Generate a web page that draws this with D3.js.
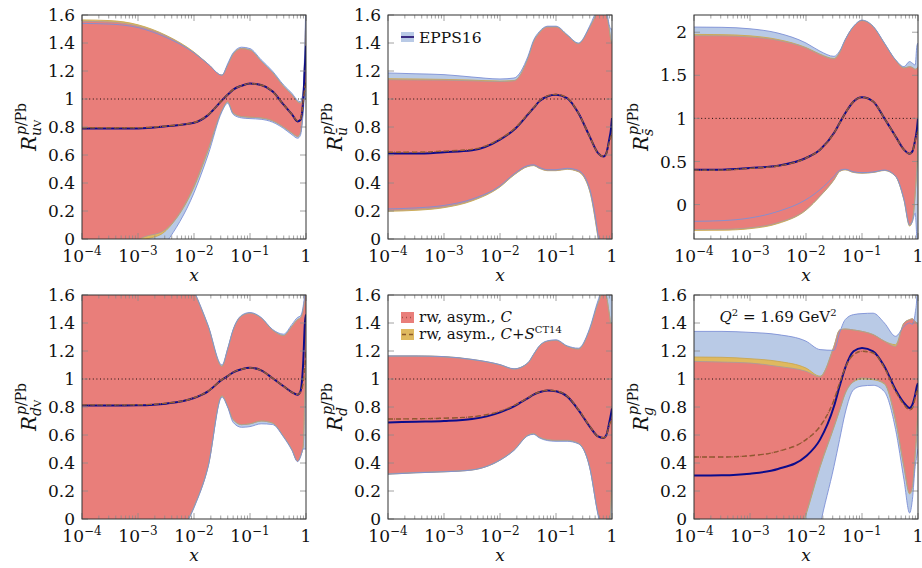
<!DOCTYPE html>
<html>
<head>
<meta charset="utf-8">
<script src="https://cdn.jsdelivr.net/npm/d3@7"></script>
<style>
  body { margin: 0; background: #fff; }
  text { font-family: "DejaVu Serif", "Liberation Serif", serif; fill: #111; }
</style>
</head>
<body>
<svg id="fig" width="922" height="568"></svg>
<script>
// sampling points in x (shared by all six panels)
const xGrid = [1e-4, 3.16e-4, 1e-3, 3.16e-3, 1e-2, 0.0178, 0.0316, 0.0398, 0.0501, 0.0708,
               0.1, 0.158, 0.251, 0.398, 0.562, 0.708, 0.794, 0.891, 0.955, 1];

// u_V
const uvEppsHi  = [1.54,1.535,1.51,1.44,1.33,1.25,1.17,1.25,1.33,1.37,1.36,1.28,1.20,1.10,1.04,0.99,0.98,1.06,1.40,1.75];
const uvEppsLo  = [-0.8,-0.55,-0.25,-0.03,0.33,0.60,0.91,0.97,0.89,0.865,0.86,0.855,0.835,0.79,0.745,0.72,0.74,0.90,1.05,1.0];
const uvEppsCen = [0.79,0.79,0.79,0.805,0.83,0.885,0.99,1.03,1.067,1.095,1.11,1.10,1.055,0.96,0.89,0.84,0.85,0.99,1.23,1.38];
const uvCHi     = [1.555,1.55,1.52,1.45,1.33,1.25,1.17,1.24,1.32,1.36,1.35,1.27,1.19,1.09,1.03,0.98,0.97,1.04,1.35,1.65];
const uvCLo     = [-0.6,-0.3,-0.01,0.07,0.38,0.64,0.92,0.98,0.90,0.875,0.87,0.865,0.845,0.80,0.757,0.733,0.757,0.93,1.10,1.05];
const uvCSHi    = [1.565,1.56,1.53,1.455,1.335,1.25,1.17,1.24,1.32,1.36,1.35,1.27,1.19,1.09,1.03,0.98,0.97,1.04,1.35,1.65];
const uvCSLo    = [-0.65,-0.35,-0.04,0.06,0.37,0.63,0.92,0.98,0.90,0.875,0.87,0.865,0.845,0.80,0.757,0.733,0.757,0.93,1.10,1.05];
const uvCSCen   = [0.795,0.795,0.795,0.807,0.832,0.887,0.99,1.03,1.067,1.095,1.11,1.10,1.055,0.96,0.89,0.845,0.855,0.98,1.08,1.12];

// u-bar
const ubEppsHi  = [1.186,1.18,1.174,1.157,1.143,1.15,1.305,1.42,1.48,1.52,1.52,1.46,1.40,1.52,1.66,1.75,1.65,1.53,1.50,1.50];
const ubEppsLo  = [0.215,0.222,0.24,0.285,0.38,0.465,0.525,0.53,0.512,0.495,0.495,0.505,0.49,0.36,0.03,-0.3,-0.4,-0.4,-0.3,-0.2];
const ubEppsCen = [0.61,0.61,0.62,0.633,0.71,0.78,0.89,0.936,0.983,1.02,1.031,1.007,0.90,0.733,0.614,0.59,0.614,0.71,0.78,0.864];
const ubCHi     = [1.138,1.136,1.135,1.13,1.125,1.13,1.29,1.41,1.47,1.515,1.515,1.455,1.395,1.51,1.63,1.72,1.62,1.50,1.42,1.40];
const ubCLo     = [0.205,0.212,0.23,0.278,0.376,0.46,0.52,0.526,0.507,0.49,0.49,0.50,0.483,0.35,0.02,-0.25,-0.3,-0.2,-0.1,0.0];
const ubCSHi    = [1.145,1.143,1.14,1.135,1.128,1.132,1.29,1.41,1.47,1.515,1.515,1.455,1.395,1.51,1.63,1.72,1.62,1.50,1.42,1.40];
const ubCSLo    = [0.198,0.205,0.224,0.272,0.372,0.457,0.518,0.524,0.505,0.488,0.488,0.498,0.48,0.345,0.01,-0.27,-0.32,-0.22,-0.12,-0.02];
const ubCSCen   = [0.62,0.62,0.628,0.64,0.715,0.785,0.893,0.938,0.985,1.022,1.033,1.008,0.90,0.733,0.614,0.59,0.612,0.69,0.73,0.76];

// s-bar
const sbEppsHi  = [2.06,2.057,2.04,1.99,1.875,1.78,1.72,1.78,1.914,2.07,2.14,2.07,1.875,1.68,1.60,1.66,1.64,1.62,1.84,1.875];
const sbEppsLo  = [-0.195,-0.187,-0.156,-0.08,0.057,0.173,0.328,0.397,0.41,0.38,0.37,0.378,0.40,0.33,0.06,-0.24,-0.2,-0.1,-0.4,-0.6];
const sbEppsCen = [0.405,0.405,0.424,0.45,0.54,0.637,0.83,0.946,1.06,1.196,1.245,1.196,1.0,0.79,0.637,0.59,0.617,0.75,0.87,1.0];
const sbCHi     = [1.96,1.958,1.945,1.906,1.817,1.74,1.69,1.76,1.91,2.065,2.135,2.065,1.87,1.675,1.585,1.60,1.59,1.57,1.58,1.60];
const sbCLo     = [-0.29,-0.288,-0.27,-0.21,-0.06,0.10,0.29,0.386,0.405,0.374,0.366,0.374,0.397,0.328,0.057,-0.23,-0.175,0.135,0.44,0.71];
const sbCSHi    = [1.975,1.972,1.958,1.915,1.822,1.745,1.695,1.765,1.91,2.065,2.135,2.065,1.87,1.675,1.585,1.60,1.59,1.57,1.58,1.60];
const sbCSLo    = [-0.30,-0.298,-0.28,-0.22,-0.065,0.095,0.285,0.383,0.403,0.372,0.364,0.372,0.395,0.325,0.05,-0.25,-0.19,0.12,0.43,0.70];
const sbCSCen   = [0.40,0.40,0.42,0.448,0.54,0.637,0.83,0.946,1.06,1.196,1.245,1.196,1.0,0.79,0.637,0.59,0.617,0.74,0.82,0.85];

// d_V
const dvEppsHi  = [2.5,2.4,2.2,1.95,1.63,1.385,1.10,1.215,1.355,1.455,1.475,1.44,1.355,1.32,1.39,1.44,1.45,1.52,1.65,1.9];
const dvEppsLo  = [-1.5,-1.2,-0.75,-0.26,0.08,0.37,0.87,0.80,0.69,0.655,0.66,0.68,0.675,0.585,0.49,0.41,0.44,0.50,0.50,0.50];
const dvEppsCen = [0.81,0.81,0.812,0.824,0.864,0.912,0.995,1.02,1.048,1.07,1.08,1.062,1.007,0.948,0.905,0.888,0.91,1.114,1.40,1.46];
const dvCHi     = [2.5,2.4,2.2,1.95,1.62,1.376,1.09,1.21,1.35,1.45,1.47,1.436,1.35,1.31,1.376,1.424,1.436,1.50,1.60,1.80];
const dvCLo     = [-1.5,-1.2,-0.75,-0.25,0.09,0.376,0.88,0.805,0.71,0.674,0.68,0.70,0.686,0.59,0.495,0.412,0.448,0.52,0.88,1.10];
const dvCSHi    = [2.5,2.4,2.2,1.95,1.625,1.38,1.09,1.21,1.35,1.45,1.47,1.436,1.35,1.31,1.376,1.424,1.436,1.50,1.60,1.80];
const dvCSLo    = [-1.5,-1.2,-0.76,-0.26,0.085,0.372,0.88,0.805,0.71,0.674,0.68,0.70,0.686,0.59,0.495,0.412,0.448,0.52,0.88,1.10];
const dvCSCen   = [0.815,0.815,0.816,0.827,0.866,0.913,0.995,1.02,1.048,1.07,1.08,1.062,1.007,0.948,0.905,0.89,0.905,0.98,1.10,1.20];

// d-bar
const dbEppsHi  = [1.165,1.165,1.16,1.14,1.103,1.073,1.117,1.177,1.236,1.273,1.28,1.237,1.22,1.36,1.56,1.66,1.65,1.60,1.65,1.70];
const dbEppsLo  = [0.32,0.33,0.337,0.35,0.42,0.49,0.595,0.605,0.58,0.56,0.555,0.555,0.537,0.37,0.03,-0.15,-0.3,-0.3,-0.2,-0.1];
const dbEppsCen = [0.69,0.695,0.70,0.714,0.762,0.805,0.864,0.888,0.905,0.917,0.912,0.876,0.78,0.662,0.59,0.579,0.60,0.686,0.745,0.79];
const dbCHi     = [1.162,1.162,1.157,1.138,1.10,1.07,1.114,1.174,1.233,1.27,1.276,1.233,1.214,1.35,1.54,1.62,1.59,1.47,1.40,1.40];
const dbCLo     = [0.324,0.333,0.34,0.352,0.424,0.495,0.60,0.61,0.586,0.567,0.562,0.562,0.543,0.376,0.043,-0.1,-0.15,-0.05,0.10,0.35];
const dbCSHi    = [1.165,1.165,1.16,1.14,1.102,1.072,1.114,1.174,1.233,1.27,1.276,1.233,1.214,1.35,1.54,1.62,1.59,1.47,1.40,1.40];
const dbCSLo    = [0.32,0.33,0.337,0.35,0.42,0.492,0.598,0.608,0.584,0.565,0.56,0.56,0.54,0.372,0.04,-0.1,-0.15,-0.05,0.10,0.35];
const dbCSCen   = [0.714,0.716,0.72,0.73,0.77,0.81,0.866,0.89,0.907,0.92,0.915,0.878,0.782,0.665,0.59,0.58,0.60,0.67,0.70,0.72];

// g
const gEppsHi   = [1.34,1.34,1.333,1.317,1.27,1.21,1.205,1.33,1.424,1.46,1.467,1.47,1.40,1.305,1.376,1.40,1.39,1.47,1.59,1.80];
const gEppsLo   = [-3,-2.4,-1.8,-1.2,-0.6,-0.05,0.376,0.567,0.757,0.924,0.95,0.955,0.91,0.64,0.28,0.043,0.138,0.376,0.45,0.50];
const gEppsCen  = [0.31,0.312,0.324,0.357,0.448,0.567,0.805,0.948,1.08,1.198,1.222,1.198,1.09,0.924,0.83,0.793,0.817,0.888,0.948,0.97];
const gCHi      = [1.126,1.121,1.114,1.09,1.055,1.015,1.233,1.35,1.357,1.35,1.34,1.317,1.27,1.233,1.40,1.424,1.43,1.41,1.40,1.376];
const gCLo      = [-2,-1.5,-1.0,-0.5,0.04,0.376,0.662,0.78,0.90,0.983,1.007,1.0,0.97,0.71,0.376,0.186,0.233,0.47,0.64,0.80];
const gCSHi     = [1.157,1.155,1.145,1.126,1.078,1.02,1.235,1.35,1.357,1.35,1.34,1.317,1.27,1.245,1.40,1.424,1.43,1.41,1.40,1.376];
const gCSLo     = [-2,-1.5,-1.0,-0.5,0.03,0.37,0.655,0.775,0.895,0.98,1.0,0.995,0.965,0.70,0.37,0.18,0.225,0.46,0.63,0.79];
const gCSCen    = [0.443,0.443,0.452,0.483,0.567,0.662,0.85,0.97,1.08,1.174,1.198,1.186,1.08,0.912,0.817,0.78,0.793,0.864,0.912,0.92];

// tick labels
const xMajor = [1e-4, 1e-3, 1e-2, 1e-1, 1];
const xMajorLabels = [["10","\u22124"],["10","\u22123"],["10","\u22122"],["10","\u22121"],["1",""]];
const yTicks16 = [0,0.2,0.4,0.6,0.8,1,1.2,1.4,1.6];
const yLabels16 = ["0","0.2","0.4","0.6","0.8","1","1.2","1.4","1.6"];
const yTicksS = [0,0.5,1,1.5,2];
const yLabelsS = ["0","0.5","1","1.5","2"];

const panels = [
  {col:0,row:0,dom:[0,1.6],ticks:yTicks16,labels:yLabels16,sub:[["u",1],["V",0,10]],
   e:[uvEppsLo,uvEppsHi,uvEppsCen],c:[uvCLo,uvCHi],cs:[uvCSLo,uvCSHi,uvCSCen]},
  {col:1,row:0,dom:[0,1.6],ticks:yTicks16,labels:yLabels16,sub:[["\u016B",1]],
   e:[ubEppsLo,ubEppsHi,ubEppsCen],c:[ubCLo,ubCHi],cs:[ubCSLo,ubCSHi,ubCSCen]},
  {col:2,row:0,dom:[-0.4,2.2],ticks:yTicksS,labels:yLabelsS,sub:[["s\u0304",1]],
   e:[sbEppsLo,sbEppsHi,sbEppsCen],c:[sbCLo,sbCHi],cs:[sbCSLo,sbCSHi,sbCSCen]},
  {col:0,row:1,dom:[0,1.6],ticks:yTicks16,labels:yLabels16,sub:[["d",1],["V",0,10]],
   e:[dvEppsLo,dvEppsHi,dvEppsCen],c:[dvCLo,dvCHi],cs:[dvCSLo,dvCSHi,dvCSCen]},
  {col:1,row:1,dom:[0,1.6],ticks:yTicks16,labels:yLabels16,sub:[["d\u0304",1]],
   e:[dbEppsLo,dbEppsHi,dbEppsCen],c:[dbCLo,dbCHi],cs:[dbCSLo,dbCSHi,dbCSCen]},
  {col:2,row:1,dom:[0,1.6],ticks:yTicks16,labels:yLabels16,sub:[["g",1]],
   e:[gEppsLo,gEppsHi,gEppsCen],c:[gCLo,gCHi],cs:[gCSLo,gCSHi,gCSCen]}
];

const BLUE_FILL = "#b9cae6", BLUE_EDGE = "#7d90d6";
const RED_FILL = "#e97e7a", RED_EDGE = "#ab9d99";
const GOLD_FILL = "#dfb95f", GOLD_EDGE = "#caa752";
const NAVY = "#0c0c8c", BROWN = "#8d5b2c";

const W = 224, H = 224;
const colX = [82, 388, 694], rowY = [15, 295];
const svg = d3.select("#fig");
const idx = d3.range(xGrid.length);

panels.forEach((p, k) => {
  const left = colX[p.col], top = rowY[p.row];
  const x = d3.scaleLog().domain([1e-4, 1]).range([0, W]);
  const y = d3.scaleLinear().domain(p.dom).range([H, 0]);
  const g = svg.append("g").attr("transform", `translate(${left},${top})`);

  g.append("clipPath").attr("id", "clip" + k)
    .append("rect").attr("width", W).attr("height", H);
  const plot = g.append("g").attr("clip-path", `url(#clip${k})`);

  const band = (lo, hi) => d3.area()
    .x(i => x(xGrid[i])).y0(i => y(lo[i])).y1(i => y(hi[i]))
    .curve(d3.curveMonotoneX);
  const line = arr => d3.line()
    .x(i => x(xGrid[i])).y(i => y(arr[i]))
    .curve(d3.curveMonotoneX);

  // fills: EPPS16 under, C+S, then C on top
  plot.append("path").attr("d", band(p.e[0], p.e[1])(idx)).attr("fill", BLUE_FILL);
  plot.append("path").attr("d", band(p.cs[0], p.cs[1])(idx)).attr("fill", GOLD_FILL);
  plot.append("path").attr("d", band(p.c[0], p.c[1])(idx)).attr("fill", RED_FILL);

  // band edges
  [[p.cs[0], GOLD_EDGE], [p.cs[1], GOLD_EDGE], [p.c[0], RED_EDGE], [p.c[1], RED_EDGE],
   [p.e[0], BLUE_EDGE], [p.e[1], BLUE_EDGE]].forEach(([arr, col]) => {
    plot.append("path").attr("d", line(arr)(idx))
      .attr("fill", "none").attr("stroke", col).attr("stroke-width", 0.9);
  });

  // reference line at 1
  plot.append("line").attr("x1", 0).attr("x2", W).attr("y1", y(1)).attr("y2", y(1))
    .attr("stroke", "#000").attr("stroke-width", 0.9).attr("stroke-dasharray", "1,2.6");

  // central values
  plot.append("path").attr("d", line(p.e[2])(idx))
    .attr("fill", "none").attr("stroke", NAVY).attr("stroke-width", 2);
  plot.append("path").attr("d", line(p.cs[2])(idx))
    .attr("fill", "none").attr("stroke", BROWN).attr("stroke-width", 1.4)
    .attr("stroke-dasharray", "5,3");
  plot.append("path").attr("d", line(p.cs[2])(idx))
    .attr("fill", "none").attr("stroke", "#a0524a").attr("stroke-width", 1.3)
    .attr("stroke-dasharray", "1,3.5").attr("stroke-dashoffset", -6);

  // ticks
  const minor = x.ticks().filter(t => Math.abs(Math.log10(t) - Math.round(Math.log10(t))) > 1e-6);
  const tk = g.append("g").attr("stroke", "#8c8c8c").attr("stroke-width", 0.8);
  minor.forEach(t => {
    tk.append("line").attr("x1", x(t)).attr("x2", x(t)).attr("y1", H).attr("y2", H - 3.5);
    tk.append("line").attr("x1", x(t)).attr("x2", x(t)).attr("y1", 0).attr("y2", 3.5);
  });
  xMajor.forEach(t => {
    tk.append("line").attr("x1", x(t)).attr("x2", x(t)).attr("y1", H).attr("y2", H - 6);
    tk.append("line").attr("x1", x(t)).attr("x2", x(t)).attr("y1", 0).attr("y2", 6);
  });
  p.ticks.forEach(t => {
    tk.append("line").attr("x1", 0).attr("x2", 6).attr("y1", y(t)).attr("y2", y(t));
    tk.append("line").attr("x1", W).attr("x2", W - 6).attr("y1", y(t)).attr("y2", y(t));
  });

  g.append("rect").attr("width", W).attr("height", H)
    .attr("fill", "none").attr("stroke", "#333").attr("stroke-width", 1);

  // tick labels
  p.ticks.forEach((t, i) => {
    g.append("text").attr("x", -7).attr("y", y(t)).attr("dy", "0.36em")
      .attr("text-anchor", "end").attr("font-size", 17).text(p.labels[i]);
  });
  xMajor.forEach((t, i) => {
    const tx = g.append("text").attr("x", x(t)).attr("y", H + 22.5)
      .attr("text-anchor", "middle").attr("font-size", 17);
    tx.append("tspan").text(xMajorLabels[i][0]);
    if (xMajorLabels[i][1]) tx.append("tspan").attr("dy", -7).attr("font-size", 12).text(xMajorLabels[i][1]);
  });

  g.append("text").attr("x", W / 2).attr("y", H + 41.5).attr("text-anchor", "middle")
    .attr("font-size", 17).attr("font-style", "italic").text("x");

  // y-axis title R^{p/Pb}_{...}
  const yl = g.append("g").attr("transform", `translate(-46,${H / 2}) rotate(-90)`);
  const rT = yl.append("text").attr("font-size", 20).attr("font-style", "italic").text("R");
  const rw = rT.node().getComputedTextLength();
  const sup = yl.append("text").attr("y", -10).attr("font-size", 14);
  sup.append("tspan").attr("font-style", "italic").text("p");
  sup.append("tspan").text("/Pb");
  const sub = yl.append("text").attr("y", 5).attr("font-size", 14);
  p.sub.forEach(s => {
    sub.append("tspan").attr("font-style", s[1] ? "italic" : "normal")
      .attr("font-size", s[2] || 14).text(s[0]);
  });
  const tw = rw + 1 + Math.max(sup.node().getComputedTextLength(), sub.node().getComputedTextLength());
  rT.attr("x", -tw / 2);
  sup.attr("x", -tw / 2 + rw + 1);
  sub.attr("x", -tw / 2 + rw);
});

// legend: EPPS16 (top middle)
const lg1 = svg.append("g").attr("transform", "translate(401,32)");
lg1.append("rect").attr("width", 13).attr("height", 10).attr("fill", BLUE_FILL);
lg1.append("line").attr("x1", 0).attr("x2", 13).attr("y1", 5).attr("y2", 5)
  .attr("stroke", "#3a2c82").attr("stroke-width", 2);
lg1.append("text").attr("x", 18).attr("y", 10.5).attr("font-size", 15.5).text("EPPS16");

// legend: reweighted (bottom middle)
const lg2 = svg.append("g").attr("transform", "translate(401,312)");
lg2.append("rect").attr("width", 13).attr("height", 11).attr("fill", RED_FILL);
lg2.append("line").attr("x1", 1).attr("x2", 13).attr("y1", 5.5).attr("y2", 5.5)
  .attr("stroke", "#a0524a").attr("stroke-width", 1.3).attr("stroke-dasharray", "1,3");
lg2.append("rect").attr("y", 17).attr("width", 13).attr("height", 11).attr("fill", GOLD_FILL);
lg2.append("line").attr("x1", 1).attr("x2", 12).attr("y1", 22.5).attr("y2", 22.5)
  .attr("stroke", BROWN).attr("stroke-width", 1.5).attr("stroke-dasharray", "4,3");
const t1 = lg2.append("text").attr("x", 18).attr("y", 10).attr("font-size", 15);
t1.append("tspan").text("rw, asym., ");
t1.append("tspan").attr("font-style", "italic").text("C");
const t2 = lg2.append("text").attr("x", 18).attr("y", 27).attr("font-size", 15);
t2.append("tspan").text("rw, asym., ");
t2.append("tspan").attr("font-style", "italic").text("C");
t2.append("tspan").text("+");
t2.append("tspan").attr("font-style", "italic").text("S");
t2.append("tspan").attr("dy", -6).attr("font-size", 10).text("CT14");

// scale label (bottom right)
const q = svg.append("text").attr("x", 778).attr("y", 322).attr("text-anchor", "middle").attr("font-size", 15);
q.append("tspan").attr("font-style", "italic").text("Q");
q.append("tspan").attr("dy", -6).attr("font-size", 10).text("2");
q.append("tspan").attr("dy", 6).text(" = 1.69 GeV");
q.append("tspan").attr("dy", -6).attr("font-size", 10).text("2");
</script>
</body>
</html>
